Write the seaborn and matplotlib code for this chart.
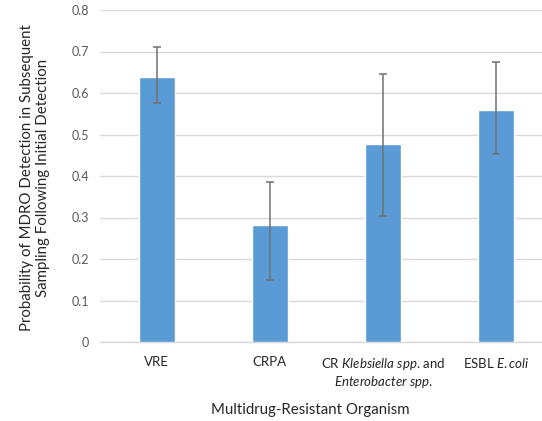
import matplotlib
matplotlib.use("Agg")
import matplotlib.pyplot as plt
import seaborn as sns
import numpy as np

# Data
organisms = ["VRE", "CRPA", "CR Klebsiella spp. and Enterobacter spp.", "ESBL E.coli"]
tick_labels = [
    "VRE",
    "CRPA",
    "CR $\\mathit{Klebsiella\\ spp}$. and\n$\\mathit{Enterobacter\\ spp.}$",
    "ESBL $\\mathit{E.coli}$",
]
probability = [0.639, 0.282, 0.477, 0.559]
ci_low = [0.576, 0.149, 0.304, 0.453]
ci_high = [0.711, 0.386, 0.646, 0.675]

sns.set_style("white")
plt.rcParams["font.family"] = ["Lato", "DejaVu Sans"]
plt.rcParams["mathtext.fontset"] = "custom"
plt.rcParams["mathtext.rm"] = "Lato"
plt.rcParams["mathtext.it"] = "Lato:italic"

fig = plt.figure(figsize=(5.42, 4.21), dpi=100)
ax = fig.add_axes([100 / 542, 79 / 421, 453 / 542, 332 / 421])

sns.barplot(x=organisms, y=probability, color="#5B9BD5", saturation=1,
            width=0.32, ax=ax, zorder=3)

vals = np.array(probability)
yerr = [vals - np.array(ci_low), np.array(ci_high) - vals]
ax.errorbar(np.arange(len(organisms)), vals, yerr=yerr, fmt="none",
            ecolor="#707070", elinewidth=1.1, capsize=3, capthick=1.1, zorder=4)

ax.set_xlim(-0.5, 3.5)
ax.set_ylim(0, 0.8)
ax.set_yticks(np.arange(0, 0.81, 0.1))
ax.set_yticklabels(["0", "0.1", "0.2", "0.3", "0.4", "0.5", "0.6", "0.7", "0.8"])
ax.grid(axis="y", color="#d9d9d9", linewidth=1, zorder=0)
ax.set_axisbelow(True)
for s in ["top", "right", "left"]:
    ax.spines[s].set_visible(False)
ax.spines["bottom"].set_color("#d9d9d9")
ax.spines["bottom"].set_linewidth(1)

ax.set_xticks(range(len(organisms)))
ax.set_xticklabels(tick_labels, fontsize=9.5, color="#262626", va="top",
                   linespacing=1.15)
ax.tick_params(axis="x", length=0, pad=10)
ax.tick_params(axis="y", length=0, pad=8, labelsize=9, labelcolor="#595959")
ax.set_xlabel("")

fig.text(310 / 542, 1 - 410 / 421, "Multidrug-Resistant Organism",
         ha="center", va="center", fontsize=10.8, color="#262626")
fig.text(35 / 542, 1 - 178 / 421,
         "Probability of MDRO Detection in Subsequent\nSampling Following Initial Detection",
         rotation=90, ha="center", va="center", fontsize=10.8, color="#262626",
         linespacing=1.15)

fig.savefig("out.png", dpi=100)
